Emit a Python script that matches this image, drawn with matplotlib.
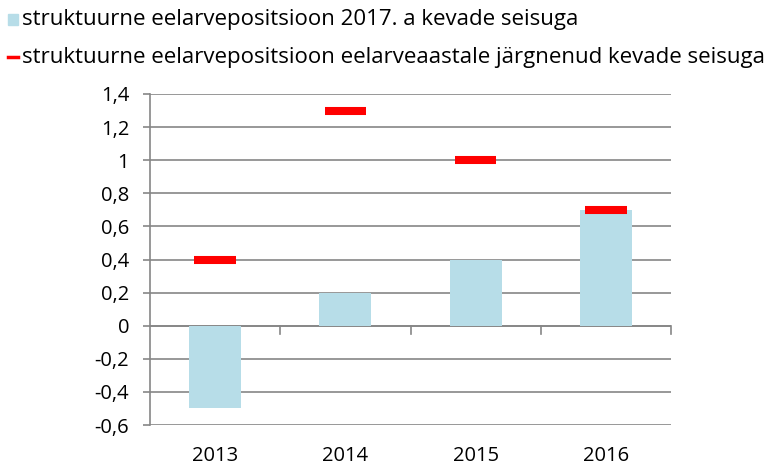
import matplotlib
matplotlib.use("Agg")
import matplotlib.pyplot as plt
from matplotlib.lines import Line2D
from matplotlib.patches import Rectangle

plt.rcParams["font.family"] = "Open Sans"

years = ["2013", "2014", "2015", "2016"]
spring_2017 = [-0.5, 0.2, 0.4, 0.7]
next_spring = [0.4, 1.3, 1.0, 0.7]
y_ticks = [-0.6, -0.4, -0.2, 0, 0.2, 0.4, 0.6, 0.8, 1, 1.2, 1.4]
legend_labels = ["struktuurne eelarvepositsioon 2017. a kevade seisuga",
                 "struktuurne eelarvepositsioon eelarveaastale järgnenud kevade seisuga"]

bar_color = "#b7dde8"
grid_color = "#868686"
fs = 14.5

fig = plt.figure(figsize=(7.69, 4.67), dpi=100)
ax = fig.add_axes([150 / 769, 42 / 467, 521 / 769, 331 / 467])

x = list(range(len(years)))
ax.bar(x, spring_2017, width=0.4, color=bar_color, zorder=2)
ax.hlines(next_spring, [i - 0.16 for i in x], [i + 0.16 for i in x],
          colors="#ff0000", linewidth=5.8, zorder=3)

ax.set_xlim(-0.5, len(years) - 0.5)
ax.set_ylim(-0.6, 1.4)
ax.set_yticks(y_ticks)
ax.set_yticklabels([f"{v:g}".replace(".", ",") for v in y_ticks], fontsize=fs)
ax.yaxis.grid(True, color=grid_color, linewidth=1.2, zorder=1)
ax.set_axisbelow(True)

# category axis sits at zero, with separator ticks between categories
ax.set_xticks([])
ax.axhline(0, color=grid_color, linewidth=1.2, zorder=1)
for b in [i + 0.5 for i in x]:
    ax.plot([b, b], [0, -0.05], color=grid_color, linewidth=1.2,
            clip_on=False, zorder=1)
for i, yr in enumerate(years):
    ax.annotate(yr, (i, -0.6), xytext=(0, -15), textcoords="offset points",
                ha="center", va="top", fontsize=fs, annotation_clip=False)

for s in ["top", "right", "bottom"]:
    ax.spines[s].set_visible(False)
ax.spines["left"].set_color(grid_color)
ax.spines["left"].set_linewidth(1.2)
ax.tick_params(axis="y", length=5, width=1.2, color=grid_color, pad=10)

# legend
fig.patches.append(Rectangle((8 / 769, 1 - 25 / 467), 10 / 769, 11 / 467,
                             transform=fig.transFigure, color=bar_color))
fig.lines.append(Line2D([8 / 769, 18 / 769], [1 - 57 / 467, 1 - 57 / 467],
                        transform=fig.transFigure, color="#ff0000", linewidth=2.5))
fig.text(22 / 769, 1 - 19 / 467, legend_labels[0], fontsize=16, va="center")
fig.text(22 / 769, 1 - 58 / 467, legend_labels[1], fontsize=16, va="center")

fig.savefig("out.png", dpi=100)
